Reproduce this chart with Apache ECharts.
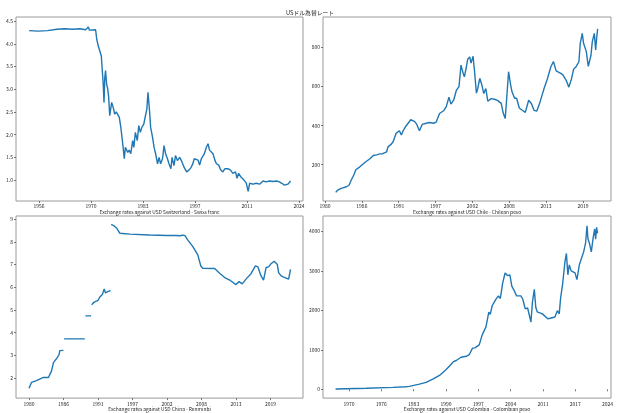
<!DOCTYPE html>
<html>
<head>
<meta charset="utf-8">
<script src="https://cdn.jsdelivr.net/npm/echarts@6/dist/echarts.min.js"></script>
<style>
html,body{margin:0;padding:0;background:#fff;}
#main{width:620px;height:413px;}
</style>
</head>
<body>
<div id="main"></div>
<script>
// スイス・フラン
var chfYears = [1953.7,1956.0,1958.5,1958.9,1961.0,1963.0,1965.0,1967.0,1968.5,1969.2,1969.5,1971.1,1971.4,1971.8,1972.2,1972.6,1972.8,1973.1,1973.3,1973.5,1973.7,1974.0,1974.2,1974.5,1974.8,1975.3,1975.7,1976.1,1976.5,1977.0,1977.3,1977.7,1978.1,1978.3,1978.6,1978.9,1979.5,1979.9,1980.3,1980.8,1981.1,1981.5,1982.0,1982.4,1982.8,1983.2,1983.7,1984.1,1984.5,1984.8,1985.2,1985.5,1986.0,1986.4,1986.8,1987.3,1987.7,1988.1,1988.6,1989.0,1989.4,1989.9,1990.3,1990.8,1991.1,1991.6,1992.0,1992.5,1993.1,1993.7,1994.2,1994.9,1995.5,1996.0,1996.5,1996.9,1997.4,1997.9,1998.3,1998.8,1999.5,2000.1,2000.5,2000.9,2001.4,2001.8,2002.3,2002.7,2003.3,2003.8,2004.4,2004.9,2005.3,2005.7,2006.4,2007.0,2007.7,2008.1,2008.5,2009.0,2009.4,2009.9,2010.5,2011.0,2011.4,2012.3,2013.1,2014.0,2014.9,2015.7,2016.6,2017.5,2018.4,2019.2,2019.8,2020.5,2021.4,2022.1];
var chfRates = [4.29,4.28,4.29,4.32,4.32,4.33,4.32,4.33,4.31,4.37,4.30,4.31,4.10,3.95,3.84,3.73,3.48,3.11,2.71,3.25,3.41,3.10,3.04,2.85,2.42,2.71,2.60,2.45,2.50,2.53,2.38,2.16,1.87,1.72,1.47,1.72,1.61,1.66,1.58,1.87,1.72,2.05,1.87,2.20,2.05,2.16,2.23,2.40,2.56,2.93,2.53,2.16,1.94,1.72,1.58,1.36,1.50,1.36,1.47,1.76,1.58,1.47,1.36,1.25,1.50,1.32,1.54,1.43,1.50,1.40,1.29,1.18,1.22,1.27,1.35,1.47,1.48,1.44,1.33,1.48,1.57,1.73,1.80,1.66,1.69,1.58,1.44,1.36,1.33,1.23,1.18,1.25,1.29,1.25,1.22,1.15,1.18,1.04,1.15,1.08,1.11,1.00,0.94,0.75,0.93,0.91,0.93,0.91,0.98,0.96,0.98,0.97,0.98,0.96,0.93,0.89,0.91,0.98];

// チリ・ペソ
var clpYears = [1981.9,1982.2,1982.7,1983.5,1983.9,1984.2,1984.6,1984.9,1985.5,1986.2,1987.0,1987.5,1988.0,1988.5,1988.9,1989.5,1989.7,1990.2,1990.5,1990.9,1991.4,1991.7,1992.0,1992.4,1993.1,1993.7,1994.0,1994.4,1994.8,1995.4,1995.9,1996.5,1996.9,1997.4,1998.0,1998.4,1998.8,1999.1,1999.5,1999.9,2000.3,2000.6,2000.9,2001.1,2001.4,2001.6,2001.9,2002.1,2002.4,2002.6,2002.9,2003.1,2003.4,2003.7,2004.0,2004.3,2004.6,2005.1,2005.6,2006.1,2006.6,2006.9,2007.2,2007.4,2007.7,2008.0,2008.2,2008.6,2008.9,2009.3,2009.7,2010.2,2010.7,2011.1,2011.5,2011.9,2012.3,2012.7,2013.0,2013.5,2014.0,2014.4,2014.8,2015.5,2015.8,2016.3,2016.7,2017.1,2017.4,2017.8,2018.2,2018.4,2018.7,2018.9,2019.3,2019.6,2020.0,2020.2,2020.5,2020.7,2020.85,2021.0];
var clpRates = [58,70,79,87,96,120,147,174,189,210,230,247,250,255,256,266,291,305,320,360,374,352,376,398,430,420,406,374,406,412,416,412,418,462,476,497,545,510,530,580,600,710,670,650,700,740,752,720,755,686,566,590,642,610,564,590,525,538,535,528,514,464,436,530,676,610,575,540,540,490,480,468,530,513,478,474,510,556,590,640,700,728,680,667,660,632,597,640,688,703,727,821,872,820,780,703,760,830,872,787,850,895];

// 人民元（欠測区間は null）
var cnyYears = [1980.3,1980.7,1981.5,1982.6,1983.4,1983.9,1984.2,1984.8,1985.1,1985.2,1985.8,1985.85,1985.9,1989.2,1989.25,1989.3,1990.2,1990.25,1990.3,1990.7,1991.3,1991.6,1992.0,1992.3,1992.5,1992.9,1993.3,1993.35,1993.4,1993.8,1994.3,1994.8,1996.4,1999.5,2002.3,2003.7,2004.4,2004.6,2004.7,2004.8,2005.2,2005.6,2006.4,2007.2,2007.7,2008.0,2009.9,2010.7,2011.5,2012.4,2013.3,2013.8,2014.3,2014.9,2015.7,2016.4,2016.8,2017.3,2017.7,2018.1,2018.5,2018.9,2019.4,2019.9,2020.1,2020.5,2021.1,2021.7,2022.0];
var cnyRates = [1.55,1.81,1.89,2.03,2.03,2.32,2.68,2.90,3.04,3.21,3.22,null,3.73,3.73,null,4.74,4.74,null,5.23,5.35,5.42,5.57,5.68,5.93,5.75,5.82,5.85,null,8.77,8.72,8.60,8.38,8.34,8.30,8.28,8.28,8.27,8.35,8.21,8.30,8.27,8.09,7.80,7.44,6.94,6.84,6.83,6.62,6.43,6.30,6.12,6.25,6.15,6.36,6.60,6.94,6.90,6.50,6.32,6.87,6.90,7.04,7.15,7.00,6.65,6.50,6.43,6.36,6.79];

// コロンビア・ペソ
var copYears = [1967.4,1973.8,1979.4,1982.0,1982.8,1984.9,1986.3,1987.7,1989.1,1990.5,1991.5,1992.0,1992.4,1992.6,1993.6,1994.7,1995.3,1996.0,1996.5,1996.9,1997.4,1998.0,1998.4,1998.8,1999.4,1999.7,2000.1,2000.5,2000.9,2001.4,2001.8,2002.3,2002.8,2003.3,2003.8,2004.2,2004.7,2005.2,2005.6,2006.1,2006.5,2007.0,2007.3,2007.5,2008.2,2008.5,2008.9,2009.2,2009.5,2009.9,2010.6,2011.0,2011.7,2012.2,2012.6,2013.2,2013.7,2014.1,2014.4,2014.8,2015.3,2015.6,2015.9,2016.2,2016.6,2017.0,2017.4,2017.8,2018.3,2018.7,2019.2,2019.6,2019.9,2020.1,2020.4,2020.8,2021.2,2021.5,2021.7,2021.9,2022.1];
var copRates = [8,25,50,65,74,132,174,256,350,500,628,700,680,730,811,836,876,1042,1050,1000,1124,1372,1420,1580,1952,1900,2116,2200,2283,2365,2300,2697,2945,2880,2900,2613,2500,2365,2340,2365,2280,2035,2000,2060,1704,2200,2531,2077,1960,1980,1910,1860,1786,1800,1810,1830,1992,1910,2324,2655,3233,3441,2900,3151,3000,3050,2950,2779,3151,3300,3481,3700,4143,3813,3700,3481,3853,4061,3800,4101,3950];

// 目盛りラベル
var chfTickLabels = ['1956','1970','1983','1997','2011','2024'];
var clpTickLabels = ['1980','1986','1991','1997','2002','2008','2013','2019'];
var cnyTickLabels = ['1980','1986','1991','1997','2002','2008','2013','2019'];
var copTickLabels = ['1970','1976','1983','1990','1997','2004','2011','2017','2024'];
var chfYTicks = [1.0,1.5,2.0,2.5,3.0,3.5,4.0,4.5];
var clpYTicks = [200,400,600,800];
var cnyYTicks = [2,3,4,5,6,7,8,9];
var copYTicks = [0,1000,2000,3000,4000];

var FONT = '"Noto Sans CJK JP", "Noto Sans", sans-serif';
var TXT = '#262626';

function pairs(xs, ys){
    return xs.map(function(x, i){ return [x, ys[i] === null ? '-' : ys[i]]; });
}
function tickPos(start, step, n){
    var a = [];
    for (var i = 0; i < n; i++) a.push(+(start + step * i).toFixed(3));
    return a;
}

var panels = [
    {grid:{left:16, top:17, width:287, height:184}, xMin:1950.28, xMax:2025.35, t0:1956.3, step:13.6,
     xLabels:chfTickLabels, yMin:0.54, yMax:4.59, yTicks:chfYTicks, digits:1,
     name:'Exchange rates against USD Switzerland - Swiss franc', data:pairs(chfYears, chfRates)},
    {grid:{left:323, top:17, width:288, height:184}, xMin:1980.0, xMax:2022.99, t0:1980.3, step:5.5,
     xLabels:clpTickLabels, yMin:14, yMax:956, yTicks:clpYTicks, digits:0,
     name:'Exchange rates against USD Chile - Chilean peso', data:pairs(clpYears, clpRates)},
    {grid:{left:16, top:216, width:287, height:185}, xMin:1978.23, xMax:2023.99, t0:1980.3, step:5.5,
     xLabels:cnyTickLabels, yMin:1.12, yMax:9.14, yTicks:cnyYTicks, digits:0,
     name:'Exchange rates against USD China - Renminbi', data:pairs(cnyYears, cnyRates)},
    {grid:{left:323, top:216, width:288, height:185}, xMin:1964.78, xMax:2024.91, t0:1970.2, step:6.75,
     xLabels:copTickLabels, yMin:-223, yMax:4389, yTicks:copYTicks, digits:0,
     name:'Exchange rates against USD Colombia - Colombian peso', data:pairs(copYears, copRates)}
];

var grids = [], xAxes = [], yAxes = [], series = [];
panels.forEach(function(p, i){
    var xt = tickPos(p.t0, p.step, p.xLabels.length);
    grids.push(Object.assign({show:true, borderColor:'#9a9a9a', borderWidth:1, containLabel:false}, p.grid));
    xAxes.push({
        type:'value', gridIndex:i, min:p.xMin, max:p.xMax,
        axisLine:{show:false},
        axisTick:{show:true, customValues:xt, length:2, lineStyle:{color:'#555', width:0.8}},
        axisLabel:{customValues:xt, fontSize:5, color:TXT, margin:3, fontFamily:FONT,
            formatter:(function(p){ return function(v){ return p.xLabels[Math.round((v - p.t0) / p.step)]; }; })(p)},
        splitLine:{show:false},
        name:p.name, nameLocation:'middle', nameGap:9,
        nameTextStyle:{fontSize:4.9, color:TXT, fontFamily:FONT}
    });
    yAxes.push({
        type:'value', gridIndex:i, min:p.yMin, max:p.yMax,
        axisLine:{show:false},
        axisTick:{show:true, customValues:p.yTicks, length:2, lineStyle:{color:'#555', width:0.8}},
        axisLabel:{customValues:p.yTicks, fontSize:5, color:TXT, margin:3, fontFamily:FONT,
            formatter:(function(d){ return function(v){ return (+v).toFixed(d); }; })(p.digits)},
        splitLine:{show:false}
    });
    series.push({
        type:'line', xAxisIndex:i, yAxisIndex:i, data:p.data,
        showSymbol:false, symbol:'none', connectNulls:false,
        lineStyle:{color:'#1f77b4', width:1.4}
    });
});

var myChart = echarts.init(document.getElementById('main'));
myChart.setOption({
    animation:false,
    backgroundColor:'#fff',
    title:{text:'USドル為替レート', left:'center', top:5,
        textStyle:{fontSize:5.8, fontWeight:'normal', color:TXT, fontFamily:FONT}},
    grid:grids, xAxis:xAxes, yAxis:yAxes, series:series
});
</script>
</body>
</html>
